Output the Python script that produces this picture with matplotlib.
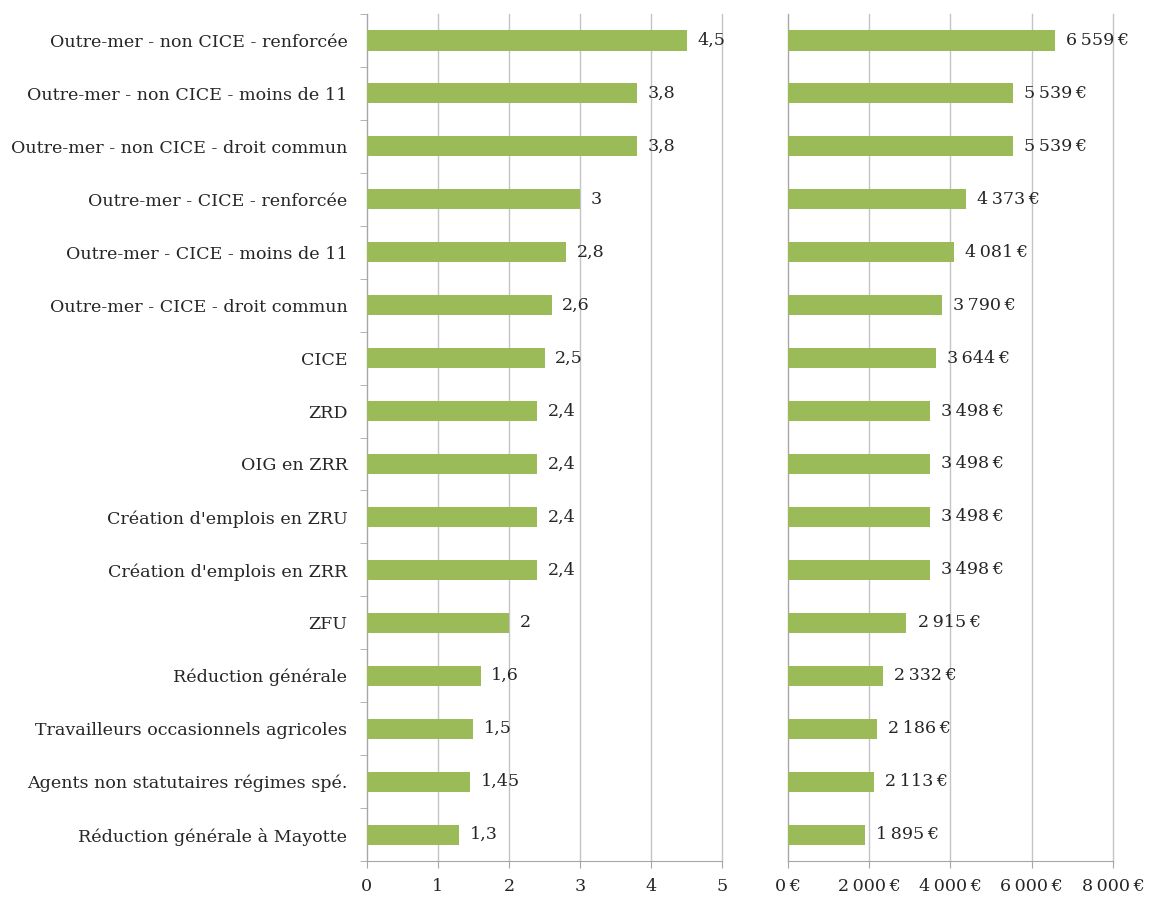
import matplotlib
matplotlib.use("Agg")
import matplotlib.pyplot as plt
import numpy as np

categories = [
    "Outre-mer - non CICE - renforcée",
    "Outre-mer - non CICE - moins de 11",
    "Outre-mer - non CICE - droit commun",
    "Outre-mer - CICE - renforcée",
    "Outre-mer - CICE - moins de 11",
    "Outre-mer - CICE - droit commun",
    "CICE",
    "ZRD",
    "OIG en ZRR",
    "Création d'emplois en ZRU",
    "Création d'emplois en ZRR",
    "ZFU",
    "Réduction générale",
    "Travailleurs occasionnels agricoles",
    "Agents non statutaires régimes spé.",
    "Réduction générale à Mayotte",
]
ratio_values = [4.5, 3.8, 3.8, 3.0, 2.8, 2.6, 2.5, 2.4, 2.4, 2.4, 2.4, 2.0, 1.6, 1.5, 1.45, 1.3]
ratio_labels = ["4,5", "3,8", "3,8", "3", "2,8", "2,6", "2,5", "2,4", "2,4", "2,4", "2,4", "2", "1,6", "1,5", "1,45", "1,3"]
euro_values = [6559, 5539, 5539, 4373, 4081, 3790, 3644, 3498, 3498, 3498, 3498, 2915, 2332, 2186, 2113, 1895]
left_ticks = [0, 1, 2, 3, 4, 5]
right_ticks = [0, 2000, 4000, 6000, 8000]

GREEN = "#9BBB59"
GRID = "#C4C4C8"
SPINE = "#A6A6AA"
TXT = "#262626"
FONT = "DejaVu Serif"
FS = 12.6
THIN = "\u2009"

def fmt_eur(v):
    return f"{int(v):,}".replace(",", THIN) + THIN + "€"

fig = plt.figure(figsize=(11.5, 8.97), dpi=100)
axL = fig.add_axes([0.319, 0.0401, 0.309, 0.9443])
axR = fig.add_axes([0.685, 0.0401, 0.283, 0.9443])

n = len(categories)
y = np.arange(n)[::-1]

for ax, vals, xmax, ticks in [(axL, ratio_values, 5, left_ticks), (axR, euro_values, 8000, right_ticks)]:
    ax.barh(y, vals, height=0.38, color=GREEN, zorder=3)
    ax.set_xlim(0, xmax)
    ax.set_ylim(-0.5, n - 0.5)
    ax.set_xticks(ticks)
    ax.grid(axis="x", color=GRID, linewidth=1.0, zorder=0)
    for gl in ax.get_xgridlines():
        gl.set_clip_on(False)
    ax.set_axisbelow(True)
    for s in ["top", "right"]:
        ax.spines[s].set_visible(False)
    ax.spines["left"].set_color(SPINE)
    ax.spines["bottom"].set_color(SPINE)
    ax.tick_params(axis="x", colors=SPINE, length=5, labelcolor=TXT, labelsize=FS, pad=7)

# left y axis: ticks at category boundaries
axL.set_yticks(y)
axL.set_yticklabels(categories, fontfamily=FONT, fontsize=FS, color=TXT)
axL.tick_params(axis="y", length=0, pad=14)
axL.set_yticks(np.arange(-0.5, n, 1.0), minor=True)
axL.tick_params(axis="y", which="minor", length=5, color=SPINE)
axL.set_xticklabels([str(t) for t in left_ticks], fontfamily=FONT)

axR.set_yticks([])
axR.set_xticklabels([fmt_eur(t) for t in right_ticks], fontfamily=FONT)

for yi, v, lab in zip(y, ratio_values, ratio_labels):
    axL.text(v + 0.15, yi, lab, va="center", ha="left", fontfamily=FONT, fontsize=FS, color=TXT, zorder=4)
for yi, v in zip(y, euro_values):
    axR.text(v + 280, yi, fmt_eur(v), va="center", ha="left", fontfamily=FONT, fontsize=FS, color=TXT, zorder=4)

fig.savefig("out.png", dpi=100)
